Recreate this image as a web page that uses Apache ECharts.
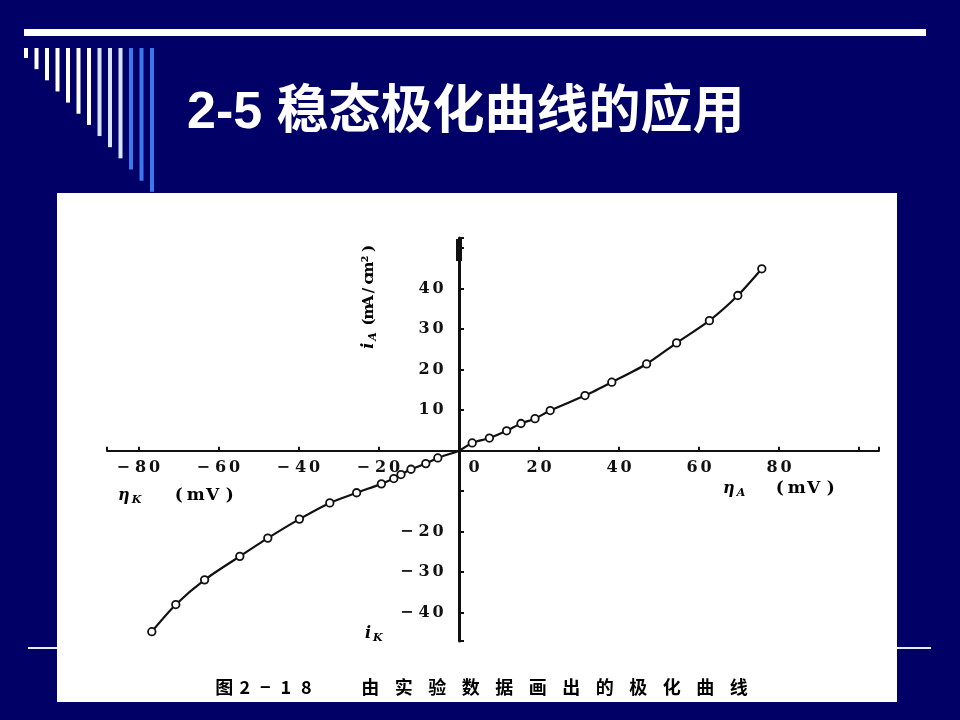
<!DOCTYPE html>
<html><head><meta charset="utf-8">
<script src="https://cdn.jsdelivr.net/npm/echarts@6/dist/echarts.min.js"></script>
<style>html,body{margin:0;padding:0;background:#000066}#c{width:960px;height:720px}</style>
</head><body><div id="c"></div>
<script>
// ---- data ----
// anodic branch: eta_A (mV) vs i_A (mA/cm2)
const anodicEta = [3.3, 7.6, 11.9, 15.5, 19.0, 22.8, 31.5, 38.2, 46.9, 54.4, 62.6, 69.7, 75.7];
const anodicI   = [1.9, 3.1, 4.9, 6.7, 7.9, 9.9, 13.6, 16.9, 21.4, 26.6, 32.1, 38.3, 44.9];
// cathodic branch: eta_K (mV) vs i_K (mA/cm2)
const cathodicEta = [-5.3, -8.3, -12.0, -14.5, -16.3, -19.4, -25.6, -32.3, -39.9, -47.8, -54.8, -63.6, -70.8, -76.8];
const cathodicI   = [-1.8, -3.2, -4.6, -5.9, -6.9, -8.2, -10.4, -12.9, -16.9, -21.6, -26.1, -31.9, -38.0, -44.7];
const originPoint = [0, 0];
const xRange = [-88, 105];
const yRange = [-47, 52.5];
const xTickLabels = [-80, -60, -40, -20, 0, 20, 40, 60, 80];
const yTickLabels = [-40, -30, -20, 10, 20, 30, 40];
const titleText = '2-5 稳态极化曲线的应用';
const captionNo = '图2−18';
const captionText = '由实验数据画出的极化曲线';

// ---- build ----
const GRID = { left: 107, right: 81, top: 238, bottom: 79 };
const gridW = 960 - GRID.left - GRID.right;
const gridH = 720 - GRID.top - GRID.bottom;
// move the axes so that they cross at (0,0) together with their labels
const xAxisOffset = -((0 - yRange[0]) / (yRange[1] - yRange[0])) * gridH;
const yAxisOffset = -((0 - xRange[0]) / (xRange[1] - xRange[0])) * gridW;

function wide(str, key) { return Array.from(str).map(c => '{' + key + '|' + c + '}').join(''); }
function numLabel(v) { return (v < 0 ? '{m|−}' : '') + wide(String(Math.abs(v)), 'd'); }
const numFont = { fontFamily: 'DejaVu Serif', fontWeight: 'bold', fontSize: 16, color: '#111' };
const numRich = {
  d: Object.assign({ width: 14, align: 'center' }, numFont),
  m: Object.assign({ width: 17, align: 'left' }, numFont),
  z: Object.assign({ padding: [0, 0, 0, 30] }, numFont)
};

const pts = [];
for (let i = cathodicEta.length - 1; i >= 0; i--) pts.push([cathodicEta[i], cathodicI[i]]);
pts.push({ value: originPoint, symbol: 'none' });
for (let i = 0; i < anodicEta.length; i++) pts.push([anodicEta[i], anodicI[i]]);

const g = [];
g.push({ type: 'rect', z: -20, shape: { x: 24, y: 29, width: 902, height: 7 }, style: { fill: '#ffffff' } });
for (let i = 0; i < 13; i++) {
  const col = i < 7 ? '#fffff4' : (i < 10 ? '#d8e4ff' : '#3a78ee');
  g.push({ type: 'rect', z: -20, shape: { x: 24 + i * 10.5, y: 48, width: 4, height: 10 + i * 11.15 }, style: { fill: col } });
}
g.push({ type: 'rect', z: -20, shape: { x: 28, y: 647, width: 903, height: 2 }, style: { fill: '#e8ecff' } });
g.push({ type: 'rect', z: -10, shape: { x: 57, y: 193, width: 840, height: 509 }, style: { fill: '#ffffff' } });
g.push({ type: 'text', z: 100, x: 187, y: 114, style: { text: titleText, fill: '#ffffff',
  font: 'bold 52px "Liberation Sans", "Noto Sans CJK SC"', textAlign: 'left', align: 'left', textVerticalAlign: 'middle', verticalAlign: 'middle' } });

const nameRich = {
  e: { fontFamily: 'DejaVu Serif', fontWeight: 'bold', fontStyle: 'italic', fontSize: 16, color: '#111' },
  i: { fontFamily: 'DejaVu Serif', fontWeight: 'bold', fontStyle: 'italic', fontSize: 16, color: '#111' },
  s: { fontFamily: 'DejaVu Serif', fontWeight: 'bold', fontStyle: 'italic', fontSize: 11, color: '#111', padding: [8, 0, 0, 2] },
  sp1: { width: 26 }, sp2: { width: 29 }, sp3: { width: 5 },
  w: { fontFamily: 'DejaVu Serif', fontWeight: 'bold', fontSize: 17, color: '#111', width: 17, align: 'center' },
  v: { fontFamily: 'DejaVu Serif', fontWeight: 'bold', fontSize: 15, color: '#111', width: 10.5, align: 'center' }
};
g.push({ type: 'text', z: 100, x: 723, y: 489, style: { text: '{e|η}{s|A}{sp1| }' + wide('(mV)', 'w'), rich: nameRich,
  textVerticalAlign: 'middle', verticalAlign: 'middle' } });
g.push({ type: 'text', z: 100, x: 118, y: 496, style: { text: '{e|η}{s|K}{sp2| }' + wide('(mV)', 'w'), rich: nameRich,
  textVerticalAlign: 'middle', verticalAlign: 'middle' } });
g.push({ type: 'text', z: 100, x: 369, y: 296, rotation: Math.PI / 2, style: { text: '{i|i}{s|A}{sp3| }' + wide('(mA/cm²)', 'v'), rich: nameRich,
  textAlign: 'center', align: 'center', textVerticalAlign: 'middle', verticalAlign: 'middle' } });
g.push({ type: 'text', z: 100, x: 365, y: 634, style: { text: '{i|i}{s|K}', rich: nameRich,
  textVerticalAlign: 'middle', verticalAlign: 'middle' } });
const capRich = {
  c1: { fontFamily: 'Noto Sans CJK SC', fontWeight: 'bold', fontSize: 18, color: '#1a1a1a', width: 20.5, align: 'center' },
  c2: { fontFamily: 'Noto Sans CJK SC', fontWeight: 'bold', fontSize: 18, color: '#1a1a1a', width: 33.5, align: 'center' },
  gp: { width: 37 }
};
g.push({ type: 'text', z: 100, x: 214, y: 687, style: { text: wide(captionNo, 'c1') + '{gp| }' + wide(captionText, 'c2'), rich: capRich,
  textVerticalAlign: 'middle', verticalAlign: 'middle' } });

const chart = echarts.init(document.getElementById('c'), null, { renderer: 'canvas' });
chart.setOption({
  animation: false,
  backgroundColor: '#000066',
  grid: Object.assign({ containLabel: false, outerBoundsMode: 'none' }, GRID),
  xAxis: {
    type: 'value', min: xRange[0], max: xRange[1], splitNumber: 10,
    position: 'bottom', offset: xAxisOffset,
    axisLine: { onZero: false, lineStyle: { color: '#111', width: 2 } },
    axisTick: { inside: true, length: 4, lineStyle: { color: '#111', width: 2 } },
    splitLine: { show: false },
    axisLabel: { margin: 9, rich: numRich,
      formatter: v => { if (!xTickLabels.includes(v)) return ''; if (v === 0) return '{z|0}'; return numLabel(v); } }
  },
  yAxis: {
    type: 'value', min: yRange[0], max: yRange[1], splitNumber: 10,
    position: 'left', offset: yAxisOffset,
    axisLine: { onZero: false, symbol: ['none', 'rect'], symbolSize: [6, 22], symbolOffset: [0, -12], lineStyle: { color: '#111', width: 3 } },
    axisTick: { inside: true, length: 5, lineStyle: { color: '#111', width: 2 } },
    splitLine: { show: false },
    axisLabel: { margin: 14, rich: numRich,
      formatter: v => { if (!yTickLabels.includes(v)) return ''; return numLabel(v); } }
  },
  graphic: { elements: g },
  series: [{
    type: 'line', data: pts, smooth: 0.25, symbol: 'circle', symbolSize: 7.5, showAllSymbol: true,
    lineStyle: { color: '#111', width: 2.2 },
    itemStyle: { color: '#ffffff', borderColor: '#111', borderWidth: 1.8 },
    z: 5
  }]
});
</script></body></html>
